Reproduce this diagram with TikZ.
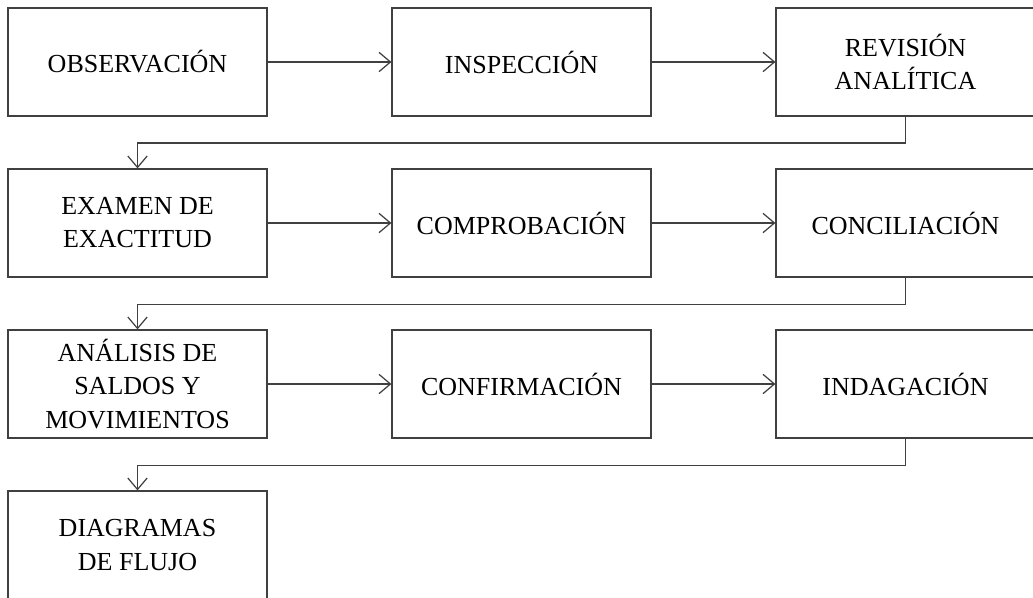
\documentclass[tikz,border=0pt]{standalone}
\usepackage{fontspec}
\setmainfont{Liberation Serif}
\usepackage{tikz}
\usetikzlibrary{arrows.meta}

\tikzset{
  caja/.style={draw=black!75, line width=0.7pt, minimum width=5.18cm, minimum height=2.16cm,
    align=center, inner sep=0pt, font=\fontsize{14.8}{18.8}\selectfont},
  flecha/.style={draw=black!75, line width=0.7pt, -{Straight Barb[length=6.5pt,width=11pt]}}
}

\begin{document}
\begin{tikzpicture}

\useasboundingbox (0,0) rectangle (20.66,11.94);

\node [caja] (obs) at (2.75,10.70) {OBSERVACIÓN};
\node [caja] (ins) at (10.43,10.70) {INSPECCIÓN};
\node [caja] (rev) at (18.11,10.70) {REVISIÓN\\ANALÍTICA};

\node [caja] (exa) at (2.75,7.48) {EXAMEN DE\\EXACTITUD};
\node [caja] (com) at (10.43,7.48) {COMPROBACIÓN};
\node [caja] (con) at (18.11,7.48) {CONCILIACIÓN};

\node [caja] (ana) at (2.75,4.26) {ANÁLISIS DE\\SALDOS Y\\MOVIMIENTOS};
\node [caja] (cnf) at (10.43,4.26) {CONFIRMACIÓN};
\node [caja] (ind) at (18.11,4.26) {INDAGACIÓN};

\node [caja] (dia) at (2.75,1.04) {DIAGRAMAS\\DE FLUJO};

\draw [flecha] (obs) -- (ins);
\draw [flecha] (ins) -- (rev);
\draw [flecha] (rev.south) -- ++(0,-0.53) -| (exa.north);

\draw [flecha] (exa) -- (com);
\draw [flecha] (com) -- (con);
\draw [flecha] (con.south) -- ++(0,-0.53) -| (ana.north);

\draw [flecha] (ana) -- (cnf);
\draw [flecha] (cnf) -- (ind);
\draw [flecha] (ind.south) -- ++(0,-0.53) -| (dia.north);

\end{tikzpicture}
\end{document}
